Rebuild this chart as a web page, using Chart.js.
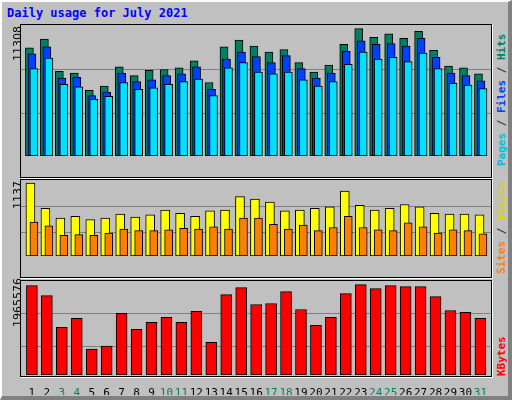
<!DOCTYPE html>
<html><head><meta charset="utf-8">
<script src="https://cdn.jsdelivr.net/npm/chart.js@4"></script>
<style>
html,body{margin:0;padding:0;}
body{width:512px;height:400px;background:#c0c0c0;position:relative;overflow:hidden;font-family:"DejaVu Sans Mono",monospace;}
#frame{position:absolute;left:0;top:0;width:506px;height:394px;border-left:2px solid #fff;border-top:2px solid #fff;border-right:4px solid #808080;border-bottom:4px solid #808080;box-sizing:content-box;}
.panel{position:absolute;border:1px solid #000;box-shadow:1px 1px 0 #fff;}
.cv{position:absolute;}
.rot{position:absolute;transform-origin:0 0;transform:rotate(-90deg);white-space:nowrap;line-height:11px;}
#title{position:absolute;left:7px;top:6px;color:#0000ff;font-weight:bold;font-size:12px;}
</style></head><body>
<div id="frame"></div>
<div id="title">Daily usage for July 2021</div>
<div class="panel" style="left:20px;top:24px;width:470px;height:152px"></div>
<div class="panel" style="left:20px;top:179px;width:470px;height:97px"></div>
<div class="panel" style="left:20px;top:280px;width:470px;height:95px"></div>
<div class="cv" style="left:21px;top:25px;width:470px;height:151px"><canvas id="c1"></canvas></div>
<div class="cv" style="left:21px;top:180px;width:470px;height:96px"><canvas id="c2"></canvas></div>
<div class="cv" style="left:21px;top:281px;width:470px;height:114px"><canvas id="c3"></canvas></div>
<div class="rot" style="left:12px;top:61px;font-family:'DejaVu Sans';font-size:11px">11308</div>
<div class="rot" style="left:12px;top:209px;font-family:'DejaVu Sans';font-size:11px">1137</div>
<div class="rot" style="left:12px;top:327px;font-family:'DejaVu Sans';font-size:11px">1965576</div>
<div class="rot" style="left:496px;top:166px;font-size:11px;font-weight:bold"><span style="color:#00c0e0">Pages</span><span style="color:#404040"> / </span><span style="color:#0040ff">Files</span><span style="color:#404040"> / </span><span style="color:#008060">Hits</span></div>
<div class="rot" style="left:496px;top:274px;font-size:11px;font-weight:bold"><span style="color:#ff8000">Sites</span><span style="color:#404040"> / </span><span style="color:#d8d800">Visits</span></div>
<div class="rot" style="left:496px;top:376px;font-size:11px;font-weight:bold"><span style="color:#ff0000">KBytes</span></div>
<script>
const days=[1,2,3,4,5,6,7,8,9,10,11,12,13,14,15,16,17,18,19,20,21,22,23,24,25,26,27,28,29,30,31];
const weekend=[3,4,10,11,17,18,24,25,31];
const hits=[9593,10362,7516,7362,5824,6208,7901,7131,7593,7670,7824,8439,6516,9670,10286,9747,9209,9439,8285,7439,8055,9901,11308,10516,10824,10439,11055,9362,7978,7824,7285];
const files=[9055,9670,6901,6978,5362,5670,7362,6593,6747,7131,7285,7901,5901,8593,9209,8824,8286,8901,7747,6901,7362,9286,10209,9901,9978,9747,10439,8747,7362,7131,6670];
const pages=[7747,8693,6362,6131,5054,5285,6516,5901,6054,6362,6593,6824,5362,7824,8286,7439,7285,7439,6747,6208,6593,8132,9209,8593,8747,8362,9132,7747,6439,6285,5977];
const visits=[1137,742,593,618,569,593,655,606,643,717,667,618,704,717,927,890,840,704,717,742,766,1013,791,717,742,803,766,667,655,655,643];
const sites=[531,470,321,334,321,358,420,395,395,408,433,420,457,420,593,593,494,420,482,395,445,618,445,408,395,519,457,358,408,395,346];
const kbytes=[1944000,1728000,1036800,1231200,561600,626400,1339200,993600,1144800,1252800,1144800,1382400,712800,1749600,1900800,1533600,1555200,1814400,1425600,1080000,1252800,1771200,1965576,1879200,1944000,1922400,1922400,1706400,1404000,1360800,1231200];

function ds(vals,off,color,w,order){
  return {data:days.map((d,i)=>({x:d+off,y:vals[i]})),backgroundColor:color,borderColor:'#000',borderWidth:1,barThickness:w,order:order,grouped:false,borderSkipped:false};
}
function make(id,datasets,max,grid,showX){
  new Chart(document.getElementById(id),{type:'bar',data:{datasets},
    options:{responsive:true,maintainAspectRatio:false,animation:false,
      layout:{padding:0},
      plugins:{legend:{display:false},tooltip:{enabled:false}},
      scales:{
        x:{type:'linear',min:0.27,max:31.67,display:showX,offset:false,
           grid:{display:false},border:{display:false},
           afterBuildTicks:s=>{s.ticks=days.map(d=>({value:d}));},
           afterFit:s=>{s.height=20;},
           ticks:{autoSkip:false,maxRotation:0,padding:4,color:c=>weekend.includes(c.tick.value)?'#008060':'#000',
             font:{family:'DejaVu Sans Mono',size:11}}},
        y:{min:0,max:max,display:true,
           afterBuildTicks:s=>{s.ticks=grid.map(v=>({value:v}));},
           afterFit:s=>{s.width=0;},
           ticks:{display:false},border:{display:false},
           grid:{drawTicks:false,color:'#808080',lineWidth:1}}
      }}});
}
make('c1',[ds(pages,0.133,'#00e0ff',8,1),ds(files,0.0,'#0040ff',8,2),ds(hits,-0.167,'#008060',8,3)],11616,[3770,7693],false);
make('c2',[ds(sites,0.133,'#ff8000',8,1),ds(visits,-0.1,'#ffff00',9,2)],1186,[371,779],false);
make('c3',[ds(kbytes,0.0,'#ff0000',11,1)],2044800,[626400,1339200],true);
</script>
</body></html>
